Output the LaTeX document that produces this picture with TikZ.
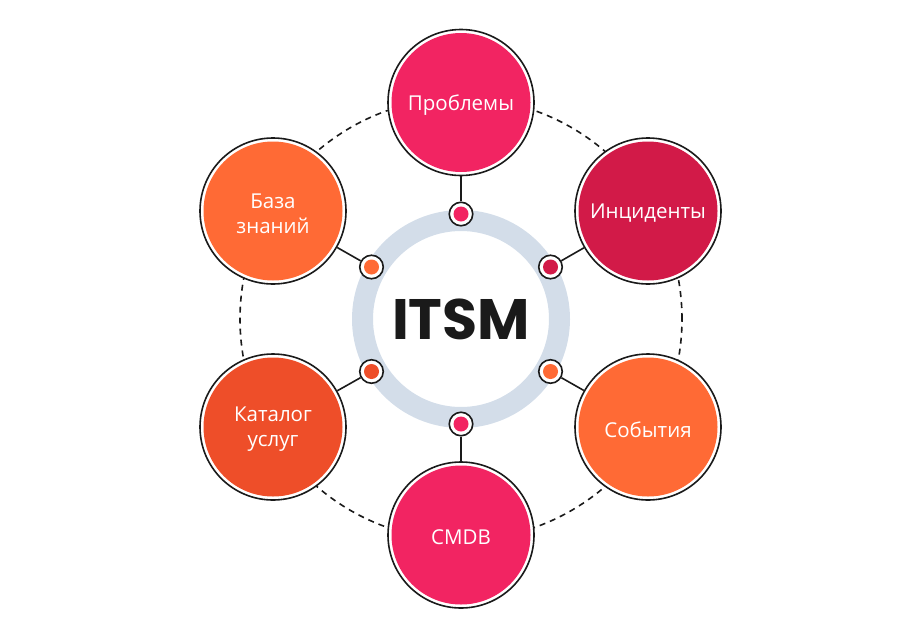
\documentclass[tikz,border=0pt]{standalone}
\usepackage{fontspec}
\setmainfont{Open Sans}
\newfontfamily\popbold{Poppins}[UprightFont=* Bold]
\definecolor{cpink}{HTML}{F22462}
\definecolor{ccrim}{HTML}{D21A48}
\definecolor{corange}{HTML}{FF6A35}
\definecolor{cred}{HTML}{EE4E29}
\definecolor{cring}{HTML}{D3DDE9}
\definecolor{cdark}{HTML}{1A1A1A}
\begin{document}
\begin{tikzpicture}[x=1pt,y=-1pt,
  bigc/.style={circle, draw=cdark, line width=1.6pt, fill=white, minimum size=146pt, inner sep=0pt,
    path picture={\fill[#1] (path picture bounding box.center) circle (69.5pt);}},
  lbl/.style={text=white, align=center, inner sep=0pt, font=\fontsize{20.5}{25}\selectfont},
  dotc/.style={circle, draw=cdark, line width=1.6pt, fill=white, minimum size=23.5pt, inner sep=0pt,
    path picture={\fill[#1] (path picture bounding box.center) circle (7.5pt);}},
  link/.style={draw=cdark, line width=1.6pt},
  dashc/.style={draw=cdark, line width=1.6pt, dash pattern=on 6pt off 5pt}]
\useasboundingbox (0,0) rectangle (920,640);
\coordinate (O) at (461,319);
% dashed orbit
\draw[dashc] (O) circle (221pt);
% ring
\draw[cring, line width=21pt] (O) circle (98.5pt);
\node[font=\popbold\fontsize{57}{57}\selectfont, text=cdark] (itsm) at (O) {ITSM};
% big circles
\node[bigc=cpink]   (P) at (461,102.5) {};
\node[bigc=ccrim]   (I) at (648,211) {};
\node[bigc=corange] (S) at (648,427) {};
\node[bigc=cpink]   (M) at (461,535) {};
\node[bigc=cred]    (K) at (273,427) {};
\node[bigc=corange] (B) at (273,211) {};
% labels
\node[lbl] (tP) at ([yshift=-2.5pt]P.center) {Проблемы};
\node[lbl] (tI) at ([yshift=-2.5pt]I.center) {Инциденты};
\node[lbl] (tS) at ([yshift=-2.5pt]S.center) {События};
\node[lbl] (tM) at ([yshift=-2.5pt]M.center) {CMDB};
\node[lbl] (tK) at ([yshift=-2.5pt]K.center) {Каталог\\услуг};
\node[lbl] (tB) at ([yshift=-2.5pt]B.center) {База\\знаний};
% dots
\node[dotc=cpink]   (dP) at (461,214) {};
\node[dotc=ccrim]   (dI) at (550.5,267) {};
\node[dotc=corange] (dS) at (550.5,371.5) {};
\node[dotc=cpink]   (dM) at (461,424) {};
\node[dotc=cred]    (dK) at (371.5,371.5) {};
\node[dotc=corange] (dB) at (371.5,267) {};
% connectors
\draw[link] (dP) -- (P);
\draw[link] (dI) -- (I);
\draw[link] (dS) -- (S);
\draw[link] (dM) -- (M);
\draw[link] (dK) -- (K);
\draw[link] (dB) -- (B);
\end{tikzpicture}
\end{document}
